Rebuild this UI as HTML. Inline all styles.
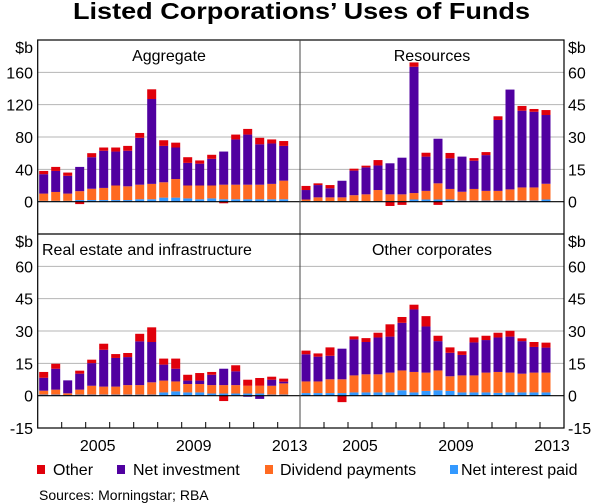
<!DOCTYPE html>
<html><head><meta charset="utf-8"><style>
body{margin:0;background:#fff;}
svg{display:block;font-family:"Liberation Sans",Arial,sans-serif;}
</style></head><body>
<svg id="chart" width="600" height="503" viewBox="0 0 600 503" xmlns="http://www.w3.org/2000/svg">
<text x="301.5" y="19" text-anchor="middle" font-size="23" font-weight="bold" textLength="457" lengthAdjust="spacingAndGlyphs">Listed Corporations’ Uses of Funds</text>
<g id="plots"></g>
<g>
<g><rect x="37" y="465" width="8" height="9" fill="#e0000b"/><text x="53" y="475" font-size="16">Other</text></g>
<g><rect x="117" y="465" width="8" height="9" fill="#5000a0"/><text x="133" y="475" font-size="16">Net investment</text></g>
<g><rect x="265" y="465" width="8" height="9" fill="#ff6a21"/><text x="280" y="475" font-size="16">Dividend payments</text></g>
<g><rect x="450" y="465" width="8" height="9" fill="#3399ff"/><text x="461" y="475" font-size="16">Net interest paid</text></g>
</g>
<text x="39" y="500" font-size="14">Sources: Morningstar; RBA</text>
</svg>
<script>
const years = ["2005","2009","2013"];
const aggInterest = [1,1,1,2,2,2,2,2,3,3,5,5,4,3,4,3,3,3,3,3,3];
const aggDividends = [9,11,9,11,14,15,18,17,18,19,19,23,16,17,16,18,18,18,18,19,23];
const aggInvestment = [24,26,22,30,39,46,42,44,58,105,45,39,28,27,33,41,56,62,50,50,43];
const aggOther = [4,5,4,-3,5,4,5,6,6,12,7,6,7,4,5,-2,6,7,8,5,6];
const resInterest = [0.3,0.3,0.3,0.3,0.3,0.3,0.3,0.3,0.3,1,1,1,1,0.5,0.5,0.5,0.5,0.5,0.5,0.5,1];
const resDividends = [0.7,1.7,1.7,1.7,2.7,3.1,5.1,3.1,3.1,3,4,7.5,4.9,4.1,5.4,4.5,4.5,5.2,6.1,6.1,7.3];
const resInvestment = [4.4,5.7,4.2,7.7,11.4,12.5,11.4,14.4,17,58.6,15.9,20.7,14.2,16.3,13.1,16.6,32.9,46.3,35.6,35.1,31.9];
const resOther = [1.9,0.8,1.5,0,0.9,0.8,2.5,-2,-1.5,2,1.8,-1.5,2.5,0,1.2,1.4,1.7,0,2.2,1.3,2.3];
const reInterest = [0.5,0.5,0.3,0.5,0.5,0.5,0.5,0.5,0.5,0.5,1.5,2,1.5,1.5,1,1,1,1,1,0.5,0.5];
const reDividends = [1.8,2.3,0.8,2.3,4.1,3.7,3.7,4.4,4.4,5.7,5.5,4.6,3.9,3.9,3.9,3.9,3.9,3.6,3.6,4.1,5.2];
const reInvestment = [6,9.7,6,7.4,10.5,17.1,13.3,13,20.3,18.7,7.4,5.9,1.6,1.6,4.8,7.6,6.4,-0.5,-1.5,2.8,0.8];
const reOther = [2.7,2.3,0,1.4,1.6,2.8,1.8,1.9,3.5,6.8,2.8,4.7,2.7,3.5,1.3,-2.5,2.8,2.8,3.6,1.4,1.4];
const ocInterest = [1.2,1.2,1.2,1.2,1.5,1.5,1.5,1.5,2.5,1.5,2.2,2.5,2.2,1.5,1.5,1.5,1.3,1.5,1.5,1.5,1.5];
const ocDividends = [5.4,5.4,6.4,6.4,7.9,8.4,8.4,9.2,9.2,9.5,8.5,9.2,6.8,7.9,7.9,9.2,9.7,9.2,8.7,9.2,9.2];
const ocInvestment = [12.6,11.5,10.9,14.2,16.7,15,17.1,16.7,22.1,29,21.4,13.6,10.9,9.5,15.3,15.1,16,16.7,15.1,11.9,11.6];
const ocOther = [1.7,1.5,3.9,-3,1.4,1.8,2.2,5.7,2.7,2.2,4.8,2.5,2.5,1.7,2.3,2,2.2,2.7,1.3,2.3,2.3];
const topTicks = [0,40,80,120,160];
const topRightTicks = [0,15,30,45,60];
const bottomTicks = [-15,0,15,30,45,60];

const NS = "http://www.w3.org/2000/svg";
const plots = document.getElementById("plots");
const colors = {interest:"#3399ff", dividends:"#ff6a21", investment:"#5000a0", other:"#e0000b"};
function mk(tag, attrs, parent){const e=document.createElementNS(NS,tag);for(const k in attrs)e.setAttribute(k,attrs[k]);(parent||plots).appendChild(e);return e;}

const L=37.7, MID=300, R=564, TOP=40, MIDY=234, BOT=428;
const titleOf = {"aggregate":"Aggregate","resources":"Resources","real-estate":"Real estate and infrastructure","other-corporates":"Other corporates"};
function panel(name, x0, x1, y0, y1, min, max, series, titleX, anchor){
  const g = mk("g",{});
  
  
  const y = v => y1 - (v-min)/(max-min)*(y1-y0);
  const xc = i => x0 + 6 + 12*i;
  const step = (max-min)/6;
  for(let k=1;k<6;k++){const v=min+k*step; if(Math.abs(v)<1e-9) continue;
    const gl = mk("line",{x1:x0,x2:x1,y1:y(v),y2:y(v),stroke:"#b4b4b4","stroke-width":1},g);
    
    
  }
  const n = series[0].vals.length;
  for(let i=0;i<n;i++){
    let pos=0, neg=0;
    for(const s of series){
      const v=s.vals[i]; if(!v) continue;
      let a,b; if(v>0){a=pos;b=pos+v;pos=b;} else {a=neg+v;b=neg;neg=a;}
      const r = mk("rect",{x:xc(i)-4.5,width:9,y:y(b),height:Math.max(0.5,y(a)-y(b)),fill:s.color},g);
      
      
    }
  }
  const z = mk("line",{x1:x0,x2:x1,y1:y(0),y2:y(0),stroke:"#000","stroke-width":1.2},g);
  
  
  const t = mk("text",{x:titleX,y:y0+21,"text-anchor":anchor,"font-size":16},g);
  t.textContent = titleOf[name];
  
  
  return y;
}
function ser(a,b,c,d){return [{key:"interest",color:colors.interest,vals:a},{key:"dividends",color:colors.dividends,vals:b},{key:"investment",color:colors.investment,vals:c},{key:"other",color:colors.other,vals:d}];}

const yA = panel("aggregate", L, MID, TOP, MIDY, -40, 200, ser(aggInterest,aggDividends,aggInvestment,aggOther), 169, "middle");
const yR = panel("resources", MID, R, TOP, MIDY, -15, 75, ser(resInterest,resDividends,resInvestment,resOther), 432, "middle");
const yRE = panel("real-estate", L, MID, MIDY, BOT, -15, 75, ser(reInterest,reDividends,reInvestment,reOther), 42, "start");
const yO = panel("other-corporates", MID, R, MIDY, BOT, -15, 75, ser(ocInterest,ocDividends,ocInvestment,ocOther), 432, "middle");

const fr = mk("rect",{x:L,y:TOP,width:R-L,height:BOT-TOP,fill:"none",stroke:"#000","stroke-width":1.2});


const vd = mk("line",{x1:MID,x2:MID,y1:TOP,y2:BOT,stroke:"#444","stroke-width":1});


const hd = mk("line",{x1:L,x2:R,y1:MIDY,y2:MIDY,stroke:"#000","stroke-width":1.2});



function lab(txt,x,y,anchor,name){const t=mk("text",{x:x,y:y,"text-anchor":anchor,"font-size":16});t.textContent=txt;
  
  }
lab("$b",33,53,"end","left-top-unit");
lab("$b",568,53,"start","right-top-unit");
lab("$b",33,247,"end","left-bottom-unit");
lab("$b",568,247,"start","right-bottom-unit");
topTicks.forEach(v=>lab(String(v),33,yA(v)+6,"end","y-tick-label"));
topRightTicks.forEach(v=>lab(String(v),568,yR(v)+6,"start","y-tick-label"));
bottomTicks.forEach(v=>{lab(String(v),33,yRE(v)+6,"end","y-tick-label");lab(String(v),568,yO(v)+6,"start","y-tick-label");});

for(let k=1;k<11;k++){
  [L,MID].forEach(x0=>{const tk=mk("line",{x1:x0+24*k,x2:x0+24*k,y1:BOT,y2:BOT-6,stroke:"#000","stroke-width":1});
    
    });
}
years.forEach(yr=>{const idx=(+yr)-2003;
  lab(yr,L+24*idx+12,451,"middle","x-tick-label");
  lab(yr,MID+24*idx+12,451,"middle","x-tick-label");});
</script>
</body></html>
